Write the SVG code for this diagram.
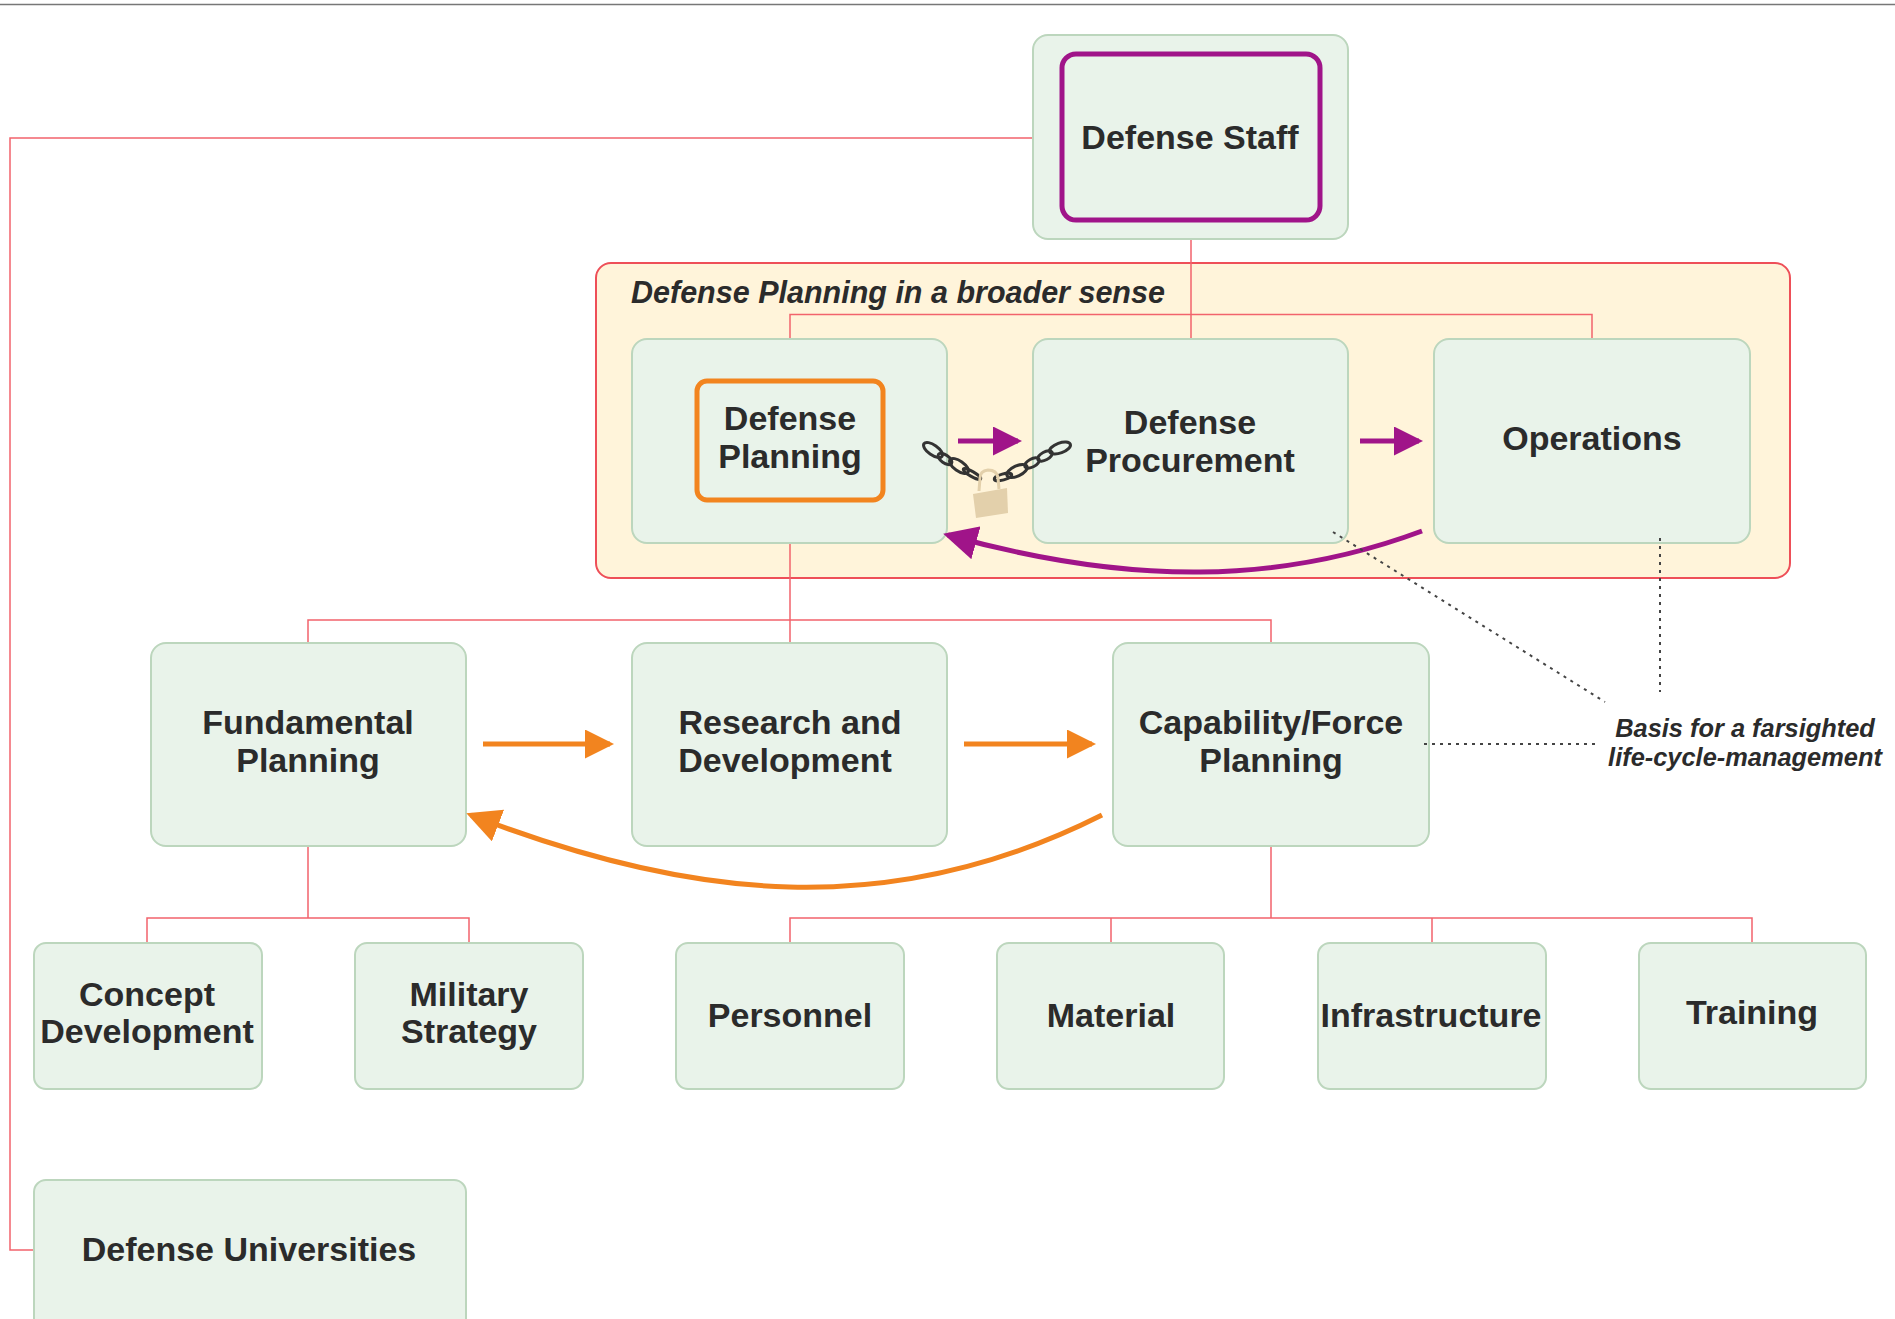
<svg xmlns="http://www.w3.org/2000/svg" width="1895" height="1319" viewBox="0 0 1895 1319">
<style>
.n{fill:#e9f3ea;stroke:#bcd6bd;stroke-width:2}
.t{font-family:"Liberation Sans",Arial,sans-serif;font-weight:bold;font-size:34px;fill:#2b2b2b;text-anchor:middle}
.i{font-family:"Liberation Sans",Arial,sans-serif;font-weight:bold;font-style:italic;fill:#2b2b2b}
.r{fill:none;stroke:#f2636c;stroke-width:1.5}
.d{fill:none;stroke:#444;stroke-width:2;stroke-dasharray:3 5}
.l{fill:none;stroke:#333;stroke-width:3}
</style>
<defs>
<marker id="ap" markerUnits="userSpaceOnUse" markerWidth="30" markerHeight="30" refX="25" refY="14.5" orient="auto"><path d="M0 0L29 14.5L0 29Z" fill="#a01489"/></marker>
<marker id="ao" markerUnits="userSpaceOnUse" markerWidth="30" markerHeight="30" refX="25" refY="14.5" orient="auto"><path d="M0 0L29 14.5L0 29Z" fill="#f2841f"/></marker>
<marker id="apc" markerUnits="userSpaceOnUse" markerWidth="36" markerHeight="34" refX="29" refY="17" orient="auto"><path d="M0 0L34 17L0 34Z" fill="#a01489"/></marker>
<marker id="aoc" markerUnits="userSpaceOnUse" markerWidth="36" markerHeight="34" refX="29" refY="17" orient="auto"><path d="M0 0L34 17L0 34Z" fill="#f2841f"/></marker>
</defs>
<rect width="1895" height="1319" fill="#fff"/>
<line x1="0" y1="4.5" x2="1895" y2="4.5" stroke="#777" stroke-width="1.5"/>
<g id="broader-sense">
<rect x="596" y="263" width="1194" height="315" rx="15" fill="#fff4da" stroke="#ee4f58" stroke-width="2"/>
<text class="i" x="631" y="303" font-size="30.500">Defense Planning in a broader sense</text>
</g>
<g id="connectors">
<path class="r" d="M1033 138H10V1250H34"/>
<path class="r" d="M1191 239V338M790 339V314.500H1592V339"/>
<path class="r" d="M790 543V643M308 643V620H1271V643"/>
<path class="r" d="M308 846V918M147 943V918H469V943"/>
<path class="r" d="M1271 846V918M790 943V918H1752V943M1111 918V943M1432 918V943"/>
</g>
<g id="defense-staff"><rect class="n" x="1033" y="35" width="315" height="204" rx="15"/><rect x="1062" y="54" width="258" height="166" rx="14" fill="none" stroke="#a01489" stroke-width="5"/><text class="t" x="1190" y="149">Defense Staff</text></g>
<g id="defense-planning"><rect class="n" x="632" y="339" width="315" height="204" rx="15"/><rect x="697" y="381" width="186" height="119" rx="10" fill="none" stroke="#f2841f" stroke-width="5"/><text class="t" x="790" y="430">Defense</text><text class="t" x="790" y="468">Planning</text></g>
<g id="defense-procurement"><rect class="n" x="1033" y="339" width="315" height="204" rx="15"/><text class="t" x="1190" y="434">Defense</text><text class="t" x="1190" y="472">Procurement</text></g>
<g id="operations"><rect class="n" x="1434" y="339" width="316" height="204" rx="15"/><text class="t" x="1592" y="450">Operations</text></g>
<g id="fundamental-planning"><rect class="n" x="151" y="643" width="315" height="203" rx="15"/><text class="t" x="308" y="734">Fundamental</text><text class="t" x="308" y="772">Planning</text></g>
<g id="research-development"><rect class="n" x="632" y="643" width="315" height="203" rx="15"/><text class="t" x="790" y="734">Research and</text><text class="t" x="785" y="772">Development</text></g>
<g id="capability-force"><rect class="n" x="1113" y="643" width="316" height="203" rx="15"/><text class="t" x="1271" y="734">Capability/Force</text><text class="t" x="1271" y="772">Planning</text></g>
<g id="concept-development"><rect class="n" x="34" y="943" width="228" height="146" rx="12"/><text class="t" x="147" y="1006">Concept</text><text class="t" x="147" y="1043">Development</text></g>
<g id="military-strategy"><rect class="n" x="355" y="943" width="228" height="146" rx="12"/><text class="t" x="469" y="1006">Military</text><text class="t" x="469" y="1043">Strategy</text></g>
<g id="personnel"><rect class="n" x="676" y="943" width="228" height="146" rx="12"/><text class="t" x="790" y="1027">Personnel</text></g>
<g id="material"><rect class="n" x="997" y="943" width="227" height="146" rx="12"/><text class="t" x="1111" y="1027">Material</text></g>
<g id="infrastructure"><rect class="n" x="1318" y="943" width="228" height="146" rx="12"/><text class="t" x="1431" y="1027">Infrastructure</text></g>
<g id="training"><rect class="n" x="1639" y="943" width="227" height="146" rx="12"/><text class="t" x="1752" y="1024">Training</text></g>
<g id="defense-universities"><rect class="n" x="34" y="1180" width="432" height="160" rx="12"/><text class="t" x="249" y="1261">Defense Universities</text></g>
<g id="flow-arrows" fill="none">
<path d="M958 441H1018" stroke="#a01489" stroke-width="5" marker-end="url(#ap)"/>
<path d="M1360 441H1419" stroke="#a01489" stroke-width="5" marker-end="url(#ap)"/>
<path d="M1422 531C1280 584 1130 586 948 535" stroke="#a01489" stroke-width="5" marker-end="url(#apc)"/>
<path d="M483 744H610" stroke="#f2841f" stroke-width="5" marker-end="url(#ao)"/>
<path d="M964 744H1092" stroke="#f2841f" stroke-width="5" marker-end="url(#ao)"/>
<path d="M1102 815C890 922 690 900 471 815" stroke="#f2841f" stroke-width="5" marker-end="url(#aoc)"/>
</g>
<g id="lock">
<ellipse class="l" cx="933" cy="450" rx="11" ry="5" transform="rotate(35 933 450)"/>
<ellipse class="l" cx="945" cy="459" rx="8" ry="4" transform="rotate(35 945 459)"/>
<ellipse class="l" cx="959" cy="466" rx="11" ry="5" transform="rotate(35 959 466)"/>
<ellipse class="l" cx="972" cy="474" rx="10" ry="2.500" transform="rotate(30 972 474)"/>
<ellipse class="l" cx="1060" cy="448" rx="11" ry="5" transform="rotate(-20 1060 448)"/>
<ellipse class="l" cx="1045" cy="456" rx="8" ry="4" transform="rotate(-28 1045 456)"/>
<ellipse class="l" cx="1032" cy="463" rx="8" ry="4" transform="rotate(-28 1032 463)"/>
<ellipse class="l" cx="1017" cy="471" rx="11" ry="5" transform="rotate(-25 1017 471)"/>
<ellipse class="l" cx="1003" cy="477" rx="9" ry="3" transform="rotate(-15 1003 477)"/>
<path d="M979 491L980 478Q980 471 988 470Q997 470 998 478L999 489" fill="none" stroke="#e3d0ab" stroke-width="3"/>
<path d="M973 494L1007 488L1008 513L976 518Z" fill="#e3d0ab"/>
</g>
<g id="annotation">
<path class="d" d="M1333 532L1605 702"/>
<path class="d" d="M1660 538V692"/>
<path class="d" d="M1424 744H1597"/>
<text class="i" x="1745" y="737" font-size="25.400" text-anchor="middle">Basis for a farsighted</text>
<text class="i" x="1745" y="766" font-size="25.400" text-anchor="middle">life-cycle-management</text>
</g>
</svg>
